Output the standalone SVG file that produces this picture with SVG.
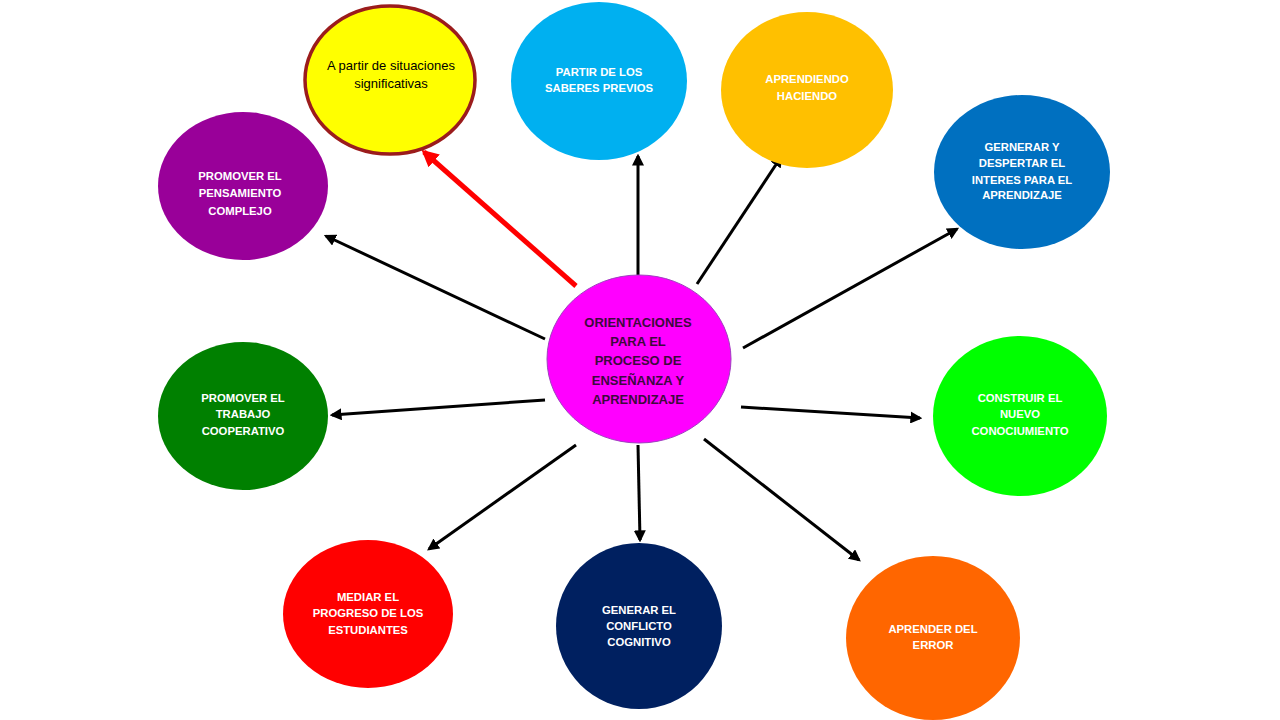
<svg xmlns="http://www.w3.org/2000/svg" width="1280" height="720" viewBox="0 0 1280 720">
<style>
.t{font-family:"Liberation Sans",Arial,sans-serif;font-weight:bold;font-size:11.3px;fill:#fff;text-anchor:middle}
.c{font-family:"Liberation Sans",Arial,sans-serif;font-weight:bold;font-size:13px;fill:#3d0a3d;text-anchor:middle}
.y{font-family:"Liberation Sans",Arial,sans-serif;font-size:13px;fill:#000;text-anchor:middle}
.a{stroke:#000;stroke-width:3;fill:none;marker-end:url(#ab)}
</style>
<defs>
<marker id="ab" viewBox="0 0 10 10" refX="8" refY="5" markerWidth="4" markerHeight="4" orient="auto" markerUnits="strokeWidth"><path d="M0,0 L10,5 L0,10 z" fill="#000"/></marker>
<marker id="ar" viewBox="0 0 10 10" refX="8" refY="5" markerWidth="3.4" markerHeight="3.4" orient="auto" markerUnits="strokeWidth"><path d="M0,0 L10,5 L0,10 z" fill="#f00"/></marker>
</defs>
<rect width="1280" height="720" fill="#fff"/>
<g id="connectors">
<line x1="576" y1="286" x2="424" y2="152" stroke="#f00" stroke-width="5" marker-end="url(#ar)"/>
<line class="a" x1="638" y1="275" x2="638" y2="156"/>
<line class="a" x1="697" y1="284" x2="781" y2="157"/>
<line class="a" x1="743" y1="348" x2="957" y2="229"/>
<line class="a" x1="545" y1="339" x2="326" y2="236"/>
<line class="a" x1="545" y1="400" x2="332" y2="415"/>
<line class="a" x1="741" y1="407" x2="920" y2="418"/>
<line class="a" x1="576" y1="445" x2="429" y2="549"/>
<line class="a" x1="638" y1="445" x2="640" y2="540"/>
<line class="a" x1="704" y1="439" x2="859" y2="560"/>
</g>
<g id="n-situaciones">
<ellipse cx="390" cy="80" rx="85" ry="74" fill="#ffff00" stroke="#9b1c1c" stroke-width="3.5"/>
<text class="y" x="391" y="70">A partir de situaciones</text>
<text class="y" x="391" y="88">significativas</text>
</g>
<g id="n-saberes">
<ellipse cx="599" cy="81" rx="88" ry="79" fill="#00b0f0"/>
<text class="t" x="599" y="76">PARTIR DE LOS</text>
<text class="t" x="599" y="92">SABERES PREVIOS</text>
</g>
<g id="n-haciendo">
<ellipse cx="807" cy="90" rx="86" ry="78" fill="#ffc000"/>
<text class="t" x="807" y="83">APRENDIENDO</text>
<text class="t" x="807" y="100">HACIENDO</text>
</g>
<g id="n-interes">
<ellipse cx="1022" cy="172" rx="88" ry="77" fill="#0070c0"/>
<text class="t" x="1022" y="151">GERNERAR Y</text>
<text class="t" x="1022" y="167">DESPERTAR EL</text>
<text class="t" x="1022" y="184">INTERES PARA EL</text>
<text class="t" x="1022" y="199">APRENDIZAJE</text>
</g>
<g id="n-pensamiento">
<ellipse cx="243" cy="186" rx="85" ry="74" fill="#990099"/>
<text class="t" x="240" y="180">PROMOVER EL</text>
<text class="t" x="240" y="197">PENSAMIENTO</text>
<text class="t" x="240" y="215">COMPLEJO</text>
</g>
<g id="n-centro">
<ellipse cx="639" cy="359" rx="92" ry="84" fill="#ff00ff" stroke="#a040c0" stroke-width="1"/>
<text class="c" x="638" y="327">ORIENTACIONES</text>
<text class="c" x="638" y="346">PARA EL</text>
<text class="c" x="638" y="365">PROCESO DE</text>
<text class="c" x="638" y="385">ENSEÑANZA Y</text>
<text class="c" x="638" y="404">APRENDIZAJE</text>
</g>
<g id="n-cooperativo">
<ellipse cx="243" cy="416" rx="85" ry="74" fill="#008000"/>
<text class="t" x="243" y="402">PROMOVER EL</text>
<text class="t" x="243" y="418">TRABAJO</text>
<text class="t" x="243" y="435">COOPERATIVO</text>
</g>
<g id="n-conocimiento">
<ellipse cx="1020" cy="416" rx="87" ry="80" fill="#00ff00"/>
<text class="t" x="1020" y="402">CONSTRUIR EL</text>
<text class="t" x="1020" y="418">NUEVO</text>
<text class="t" x="1020" y="435">CONOCIUMIENTO</text>
</g>
<g id="n-mediar">
<ellipse cx="368" cy="614" rx="85" ry="74" fill="#ff0000"/>
<text class="t" x="368" y="601">MEDIAR EL</text>
<text class="t" x="368" y="617">PROGRESO DE LOS</text>
<text class="t" x="368" y="634">ESTUDIANTES</text>
</g>
<g id="n-conflicto">
<ellipse cx="639" cy="626" rx="83" ry="83" fill="#002060"/>
<text class="t" x="639" y="614">GENERAR EL</text>
<text class="t" x="639" y="630">CONFLICTO</text>
<text class="t" x="639" y="646">COGNITIVO</text>
</g>
<g id="n-error">
<ellipse cx="933" cy="638" rx="87" ry="82" fill="#ff6600"/>
<text class="t" x="933" y="633">APRENDER DEL</text>
<text class="t" x="933" y="649">ERROR</text>
</g>
</svg>
